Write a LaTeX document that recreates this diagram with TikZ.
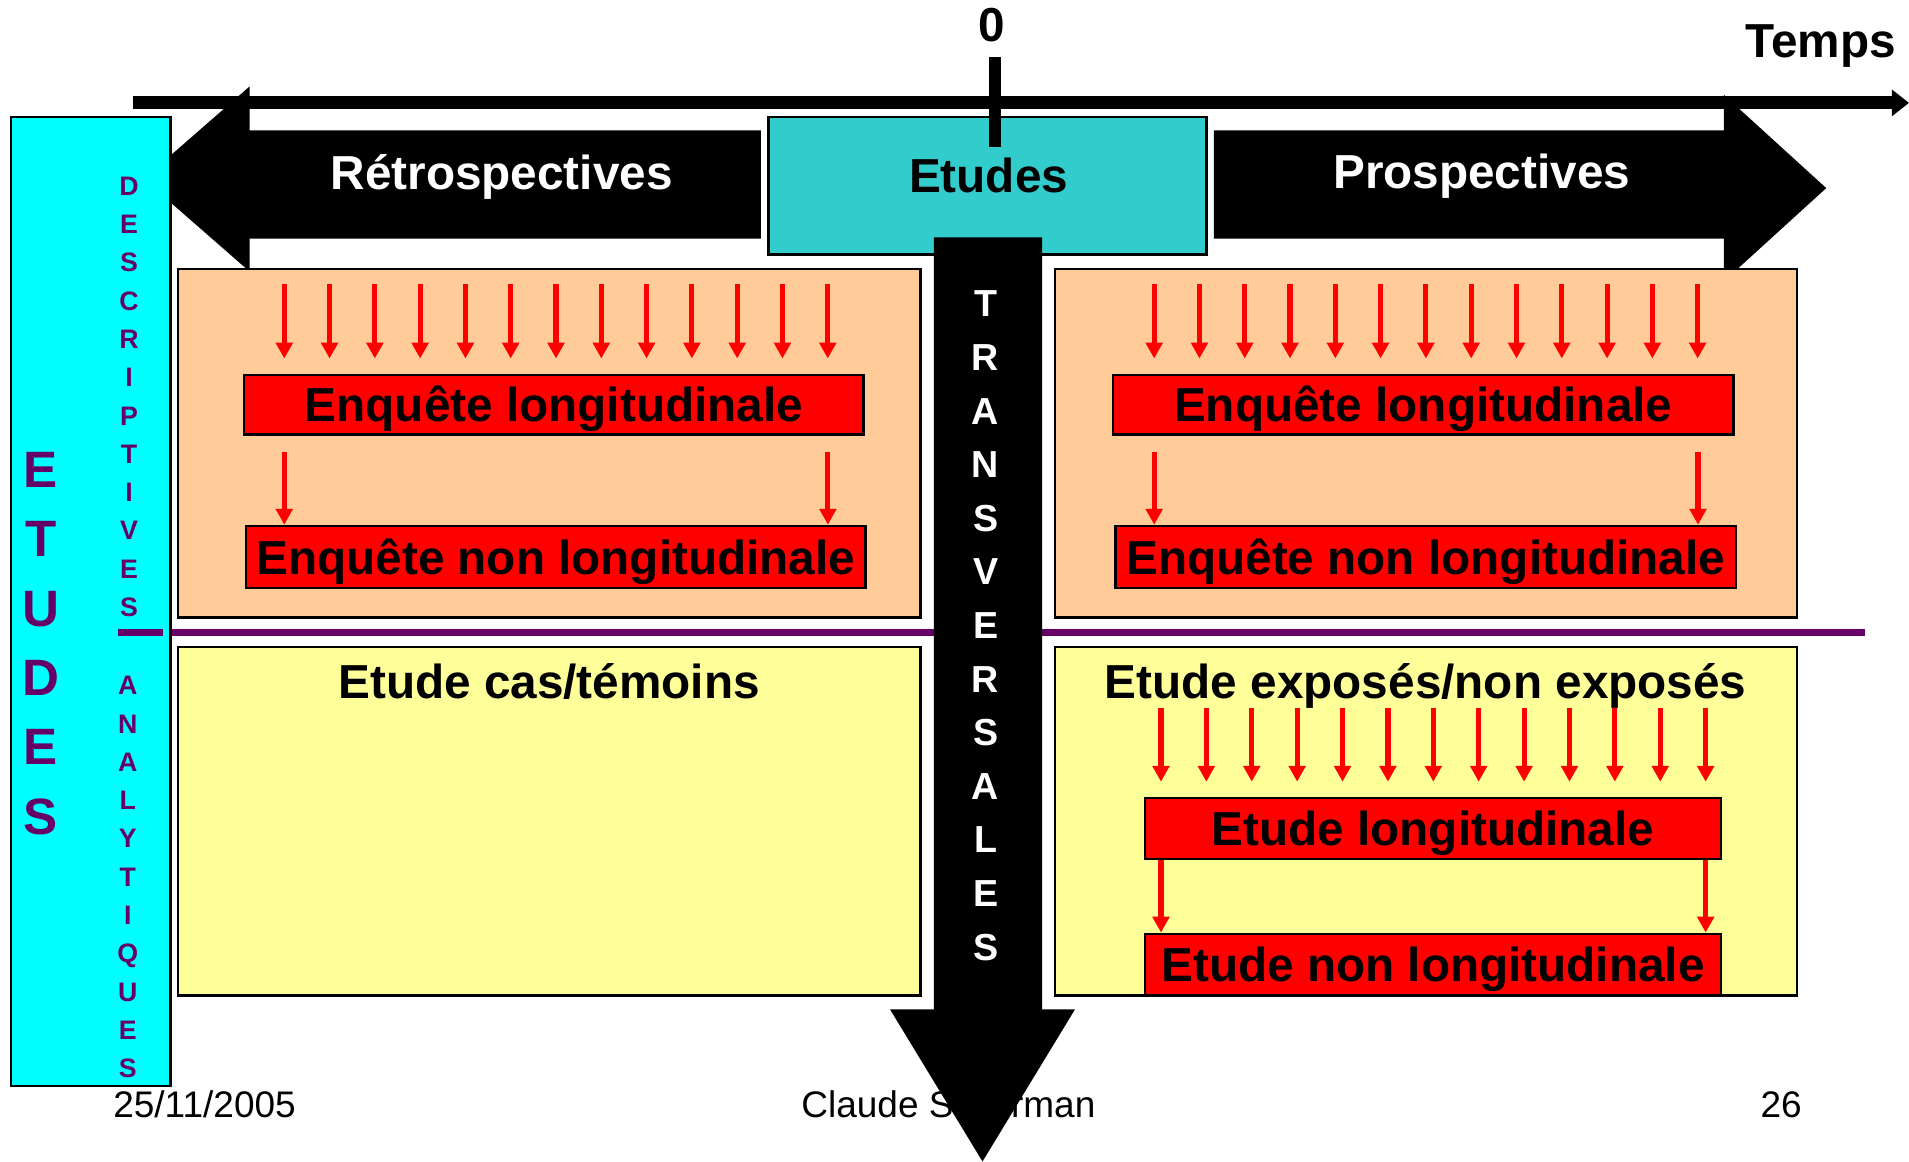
\documentclass[tikz,border=0pt]{standalone}
\usepackage{fontspec}
\setmainfont{Liberation Sans}
\usepackage{xcolor}
\definecolor{etcyan}{RGB}{0,255,255}
\definecolor{etteal}{RGB}{51,204,204}
\definecolor{etpeach}{RGB}{255,204,153}
\definecolor{etyellow}{RGB}{255,255,153}
\definecolor{etred}{RGB}{255,0,0}
\definecolor{etpurple}{RGB}{102,0,102}
\usepackage{tikz}
\usetikzlibrary{arrows.meta}

\tikzset{
  bigtxt/.style={font=\fontsize{22.3}{26}\selectfont\bfseries, inner sep=0pt, anchor=base},
  panel/.style={draw=black, line width=1.2pt, inner sep=0pt},
  redbox/.style={panel, fill=etred, font=\fontsize{22.3}{26}\selectfont\bfseries, text height=20pt, text depth=4pt, inner sep=1pt},
  redarrow/.style={draw=etred, line width=2.4pt, -{Triangle[length=0.26cm,width=0.27cm]}},
  vletters/.style={align=center, inner sep=0pt, text=etpurple},
  foot/.style={font=\fontsize{17.3}{20}\selectfont, inner sep=0pt, anchor=base},
}

\begin{document}
\begin{tikzpicture}[x=0.02cm, y=-0.02cm]
      \useasboundingbox (0,0) rectangle (1568,954);
      % Time axis
      \draw[line width=0.21cm, -{Triangle[length=0.28cm,width=0.42cm]}] (109,84.5) -- (1568,84.5);
      \node[bigtxt] (zero) at (815,34) {0};
      \node[bigtxt] (temps) at (1495.5,47) {Temps};
      % Retrospective arrow
      \fill (625,107) -- (205,107) -- (205,71) -- (118,147) -- (205,223) -- (205,196) -- (625,196) -- cycle;
      \node[bigtxt, white] (retro) at (412,156) {Rétrospectives};
      % Prospective arrow
      \fill (997,107) -- (1416,107) -- (1416,78) -- (1500,154.5) -- (1416,231) -- (1416,196) -- (997,196) -- cycle;
      \node[bigtxt, white] (prosp) at (1217,155) {Prospectives};
      % Left column
      \node[panel, fill=etcyan, minimum width=2.62cm, minimum height=15.92cm] (colonne) at (74.6,494) {};
      \node[vletters, font=\fontsize{23.9}{32.4}\selectfont\bfseries] (etudesv) at (33.5,528.5) {E\\T\\U\\D\\E\\S};
      \node[vletters, font=\fontsize{12.5}{17.9}\selectfont\bfseries] (descr) at (106,326) {D\\E\\S\\C\\R\\I\\P\\T\\I\\V\\E\\S};
      \node[vletters, font=\fontsize{12.5}{17.9}\selectfont\bfseries] (analyt) at (105,720.5) {A\\N\\A\\L\\Y\\T\\I\\Q\\U\\E\\S};
      % Separation line
      \draw[etpurple, line width=0.12cm] (97,519.5) -- (134,519.5);
      \draw[etpurple, line width=0.12cm] (colonne.east |- 0,519.5) -- (1532,519.5);
      % Etudes box
      \node[panel, fill=etteal, minimum width=7.2cm, minimum height=2.26cm] (etudes) at (811,152.5) {};
      \node[bigtxt] (etudestxt) at (812,158.3) {Etudes};
      \draw[line width=0.2cm] (817,47) -- (817,121);
      % Panels
      \node[panel, fill=etpeach, minimum width=12.2cm, minimum height=5.72cm] (descL) at (451,364) {};
      \node[panel, fill=etpeach, minimum width=12.19cm, minimum height=5.72cm] (descR) at (1171.25,364) {};
      \node[panel, fill=etyellow, minimum width=12.2cm, minimum height=5.72cm] (anaL) at (451,674.5) {};
      \node[panel, fill=etyellow, minimum width=12.19cm, minimum height=5.72cm] (anaR) at (1171.25,674.5) {};
      % Descriptive studies
      \node[redbox, minimum width=10.18cm, minimum height=0.98cm] (enqLongL) at (455,332.5) {Enquête longitudinale};
      \node[redbox, minimum width=10.18cm, minimum height=1.02cm] (enqNonL) at (456.5,457.5) {Enquête non longitudinale};
      \node[redbox, minimum width=10.2cm, minimum height=0.98cm] (enqLongR) at (1169,332.5) {Enquête longitudinale};
      \node[redbox, minimum width=10.2cm, minimum height=1.02cm] (enqNonR) at (1171,457.5) {Enquête non longitudinale};
      % Analytic studies
      \node[bigtxt] (casTem) at (451,574) {Etude cas/témoins};
      \node[bigtxt] (expNon) at (1171,574) {Etude exposés/non exposés};
      \node[redbox, minimum width=9.46cm, minimum height=1.0cm] (etLong) at (1177,680.6) {Etude longitudinale};
      \node[redbox, minimum width=9.46cm, minimum height=1.01cm] (etNon) at (1177,792.25) {Etude non longitudinale};
      % Red arrows
      \foreach \k in {0,...,12}{
        \pgfmathsetmacro{\xa}{233.5+37.2*\k}
        \pgfmathsetmacro{\xb}{948+37.2*\k}
        \pgfmathsetmacro{\xc}{953.6+37.28*\k}
        \draw[redarrow, shorten >=0.25cm] (\xa,233) -- (enqLongL.north -| \xa,0);
        \draw[redarrow, shorten >=0.25cm] (\xb,233) -- (enqLongR.north -| \xb,0);
        \draw[redarrow, shorten >=0.25cm] (\xc,581.6) -- (etLong.north -| \xc,0);
      }
      \draw[redarrow, shorten <=0.26cm] (enqLongL.south -| 233.5,0) -- (enqNonL.north -| 233.5,0);
      \draw[redarrow, shorten <=0.26cm] (enqLongL.south -| 680,0) -- (enqNonL.north -| 680,0);
      \draw[redarrow, shorten <=0.26cm] (enqLongR.south -| 948,0) -- (enqNonR.north -| 948,0);
      \draw[redarrow, shorten <=0.26cm] (enqLongR.south -| 1394.7,0) -- (enqNonR.north -| 1394.7,0);
      \draw[redarrow] (etLong.south -| 953.6,0) -- (etNon.north -| 953.6,0);
      \draw[redarrow] (etLong.south -| 1401,0) -- (etNon.north -| 1401,0);
      % Footer
      \node[foot] (date) at (168,918) {25/11/2005};
      \node[foot] (auteur) at (779,918) {Claude Silberman};
      \node[foot] (page) at (1463,918) {26};
      % Transverse arrow
      \fill (767,195) -- (856,195) -- (856,829) -- (883,829) -- (807,954) -- (731,829) -- (767,829) -- cycle;
      \node[vletters, text=white, font=\fontsize{17.6}{25.06}\selectfont\bfseries] (transv) at (809.5,514) {T\\R\\A\\N\\S\\V\\E\\R\\S\\A\\L\\E\\S};
\end{tikzpicture}
\end{document}
